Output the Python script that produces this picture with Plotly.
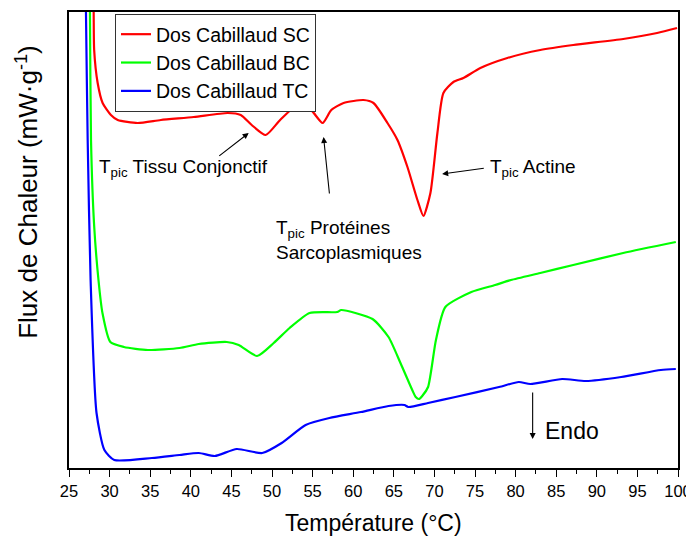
import plotly.graph_objects as go

# Temperature (°C) and heat-flow (arbitrary units, endo down)
t_sc = [27.95, 28.04, 28.10, 28.53, 29.14, 30.16, 31.0, 33.45, 36.31, 40.37, 44.55, 46.15, 47.5, 49.22,
        51.0, 53.16, 54.8, 56.23, 57.3, 58.81, 61.27, 62.5, 64.22, 65.45, 66.68, 67.91, 68.65,
        69.51, 70.37, 71.11, 72.34, 73.57, 75.66, 78.98, 83.04, 87.1, 93.25, 97.43, 99.88]
y_sc = [520, 453, 416, 383, 363, 351, 346, 343, 346, 349, 353, 351, 341, 331,
        346, 361, 356, 343, 356, 363, 366, 363, 343, 326, 299, 266, 250,
        273, 333, 373, 384, 388, 398, 408, 416, 421, 427, 433, 438]

t_bc = [27.5, 27.58, 27.71, 28.1, 28.63, 29.12, 30.09, 31.76, 34.71, 38.6, 40.98, 44.43, 45.9, 48.16,
        50.21, 52.17, 54.63, 58.04, 58.52, 62.38, 64.35, 65.82, 67.27, 67.7, 68.1, 68.5, 69.22,
        70.19, 71.35, 74.55, 77.48, 79.42, 83.04, 87.1, 93.25, 99.73]
y_bc = [520, 454, 326, 240, 186, 153, 124, 119, 116, 118, 122, 124, 121, 110,
        123, 138, 153, 154, 156, 147, 129, 103, 76, 69, 67, 70, 79,
        126, 159, 174, 181, 186, 193, 201, 213, 224]

t_tc = [27.0, 27.09, 27.3, 27.66, 28.39, 29.36, 30.58, 35.21, 38.6, 40.98, 42.95, 45.66, 48.8,
        51.19, 54.14, 57.07, 60.95, 64.35, 66.31, 66.78, 69.22, 72.58, 77.96, 80.39, 81.81,
        85.74, 88.65, 93.0, 97.89, 99.73]
y_tc = [520, 454, 326, 186, 53, 16, 6, 8, 11, 13, 10, 17, 13,
        23, 41, 48, 54, 60, 61, 59, 63, 69, 79, 84, 82,
        87, 85, 89, 96, 97]

names = ["Dos Cabillaud SC", "Dos Cabillaud BC", "Dos Cabillaud TC"]
colors = ["#FF0000", "#00FF00", "#0000FF"]

x_ticks = list(range(25, 101, 5))

FONT = "Liberation Sans, Arial, sans-serif"

fig = go.Figure()
for t, y, n, c in zip([t_sc, t_bc, t_tc], [y_sc, y_bc, y_tc], names, colors):
    fig.add_trace(go.Scatter(x=t, y=y, mode="lines", name=n,
                             line=dict(color=c, width=2.2, shape="spline", smoothing=0.6)))

ann_font = dict(family=FONT, size=19, color="black")
arrow = dict(xref="x", yref="y", axref="x", ayref="y", text="", showarrow=True,
             arrowhead=2, arrowsize=1.1, arrowwidth=1.1, arrowcolor="black")
annotations = [
    dict(x=47.13, y=333, ax=43.32, ay=309, **arrow),
    dict(x=56.35, y=329, ax=57.09, ay=271, **arrow),
    dict(x=70.95, y=292, ax=76.27, ay=298, **arrow),
    dict(x=82.1, y=27, ax=82.1, ay=75, **arrow),
    dict(x=28.4, y=298, xref="x", yref="y", xanchor="left", yanchor="middle", showarrow=False,
         text="T<sub>pic</sub> Tissu Conjonctif", font=ann_font),
    dict(x=50.2, y=226, xref="x", yref="y", xanchor="left", yanchor="middle", showarrow=False,
         align="left", text="T<sub>pic</sub> Protéines<br>Sarcoplasmiques", font=ann_font),
    dict(x=76.6, y=298, xref="x", yref="y", xanchor="left", yanchor="middle", showarrow=False,
         text="T<sub>pic</sub> Actine", font=ann_font),
    dict(x=83.4, y=35, xref="x", yref="y", xanchor="left", yanchor="middle", showarrow=False,
         text="Endo", font=dict(family=FONT, size=23, color="black")),
    dict(x=-0.0695, y=0.605, xref="paper", yref="paper", xanchor="center", yanchor="middle",
         showarrow=False, textangle=-90, text="Flux de Chaleur (mW·g<sup>-1</sup>)",
         font=dict(family=FONT, size=26, color="black")),
    dict(x=0.5, y=-0.12, xref="paper", yref="paper", xanchor="center", yanchor="middle",
         showarrow=False, text="Température (°C)",
         font=dict(family=FONT, size=23, color="black")),
]

# page body has an 8px margin: figure is placed at (8, 8) and fills the rest of the window
fig.update_layout(
    width=686, height=530,
    margin=dict(l=61, r=16, t=4, b=70, autoexpand=False),
    paper_bgcolor="white", plot_bgcolor="white",
    font=dict(family=FONT, color="black"),
    showlegend=True,
    legend=dict(x=0.0755, y=0.9956, xanchor="left", yanchor="top",
                bordercolor="#333333", borderwidth=1, bgcolor="white",
                font=dict(family=FONT, size=19.5, color="black"),
                tracegroupgap=0),
    annotations=annotations,
)
fig.update_xaxes(range=[25, 100], tickvals=x_ticks, ticks="outside", ticklen=7, tickwidth=1,
                 tickcolor="black", showline=True, linecolor="black", linewidth=1.5, mirror=True,
                 showgrid=False, zeroline=False, automargin=False,
                 tickfont=dict(family=FONT, size=16.5, color="black"),
                 minor=dict(dtick=2.5, ticks="outside", ticklen=4, tickcolor="black", showgrid=False))
fig.update_yaxes(range=[-2, 454], showticklabels=False, ticks="", showline=True, linecolor="black",
                 linewidth=1.5, mirror=True, showgrid=False, zeroline=False, automargin=False)

fig.write_html("out.html")
